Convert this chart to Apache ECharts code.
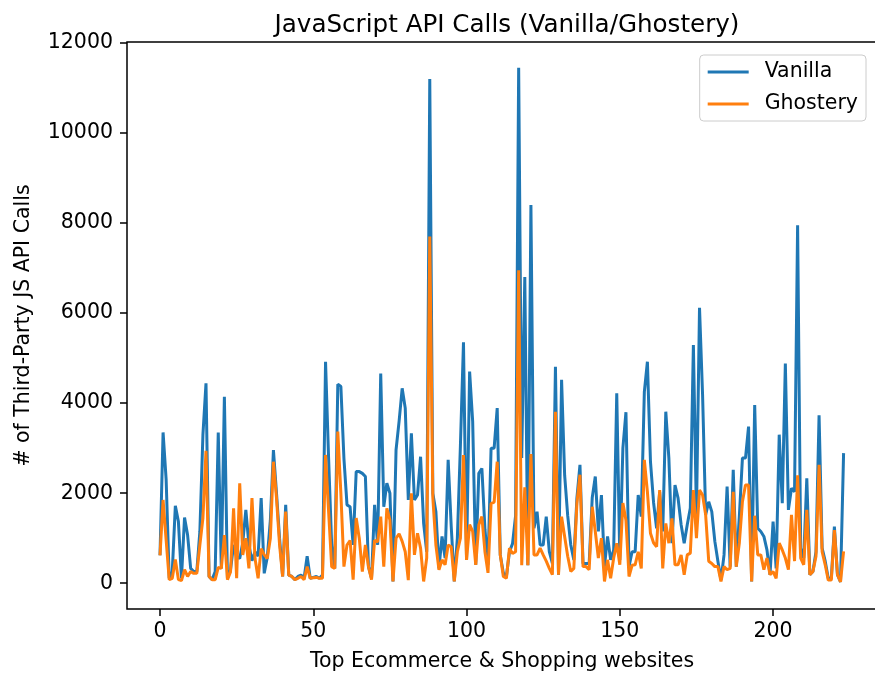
<!DOCTYPE html>
<html>
<head>
<meta charset="utf-8">
<title>JavaScript API Calls</title>
<script src="https://cdn.jsdelivr.net/npm/echarts@6/dist/echarts.min.js"></script>
<style>
    html, body { margin: 0; padding: 0; background: #fff; }
    #chart { width: 875px; height: 676px; }
</style>
</head>
<body>
<div id="chart"></div>
<script>
// values, one per website (index 0..223)
const vanilla = [
    620, 3350, 2300, 110, 260, 1720, 1370, 110, 1460, 1070, 330, 260, 260, 1150, 3300, 4440, 150, 80, 260, 3350,
    330, 4140, 110, 300, 850, 600, 550, 900, 1630, 850, 500, 700, 600, 1890, 220, 580, 1400, 2960, 2000, 1000,
    150, 1740, 180, 150, 80, 150, 180, 110, 600, 110, 130, 150, 110, 180, 4920, 2770, 850, 330, 4420, 4370,
    2770, 1740, 1700, 850, 2480, 2480, 2440, 2370, 370, 110, 1740, 850, 4660, 1700, 2220, 2000, 40, 2960, 3600, 4330,
    3890, 1850, 3330, 1850, 1960, 2810, 1330, 700, 11200, 2000, 1590, 330, 1040, 560, 2740, 1260, 40, 1000, 3060, 5350,
    520, 4700, 3590, 410, 2440, 2550, 1200, 410, 3000, 3000, 3890, 630, 230, 150, 700, 880, 1500, 11450, 2780, 6800,
    400, 8400, 1220, 1590, 850, 850, 1480, 700, 440, 4810, 190, 4520, 2400, 1500, 850, 520, 1890, 2630, 440, 440,
    440, 1900, 2370, 1150, 1960, 370, 1040, 520, 740, 4220, 520, 3000, 3800, 370, 700, 700, 1960, 1480, 4250, 4920,
    2700, 1800, 1220, 2030, 1150, 3810, 2780, 890, 2180, 1890, 1300, 890, 1300, 1670, 5290, 1520, 6120, 4180, 1520, 1810,
    1590, 930, 490, 70, 630, 2150, 370, 2520, 370, 1500, 2780, 2780, 3480, 40, 3960, 1220, 1150, 1040, 740, 190,
    1370, 330, 3300, 1780, 4880, 1630, 2110, 2030, 7950, 780, 560, 2330, 190, 260, 700, 3730, 780, 490, 110, 110,
    1260, 190, 30, 2890
];
const ghostery = [
    620, 1850, 960, 80, 110, 530, 80, 60, 300, 150, 260, 220, 220, 850, 1450, 2940, 150, 80, 80, 350,
    330, 1070, 80, 250, 1665, 110, 2220, 630, 1000, 330, 1890, 550, 110, 770, 630, 550, 1000, 2700, 1890, 850,
    150, 1590, 180, 150, 80, 110, 150, 80, 370, 110, 120, 130, 110, 110, 2850, 1590, 370, 330, 3370, 2000,
    370, 850, 950, 80, 1450, 1000, 260, 850, 370, 80, 950, 920, 1480, 370, 1665, 1400, 40, 1000, 1100, 930,
    700, 70, 2000, 630, 1110, 780, 40, 560, 7700, 1900, 850, 300, 520, 410, 850, 810, 40, 700, 1000, 2850,
    520, 1300, 1150, 410, 1300, 1480, 700, 230, 1770, 1800, 2700, 630, 150, 110, 780, 660, 700, 6950, 400, 2130,
    400, 2870, 630, 630, 780, 630, 490, 330, 190, 3810, 190, 1480, 1040, 600, 260, 330, 1780, 2410, 370, 370,
    300, 1700, 1150, 560, 1000, 40, 520, 110, 560, 890, 410, 1780, 1400, 150, 400, 410, 700, 330, 2740, 2030,
    1110, 900, 810, 2070, 330, 1330, 890, 1440, 410, 410, 630, 190, 630, 670, 2070, 1000, 2070, 1960, 1520, 490,
    440, 370, 370, 40, 370, 300, 330, 2030, 370, 900, 1810, 2180, 2180, 40, 1500, 630, 630, 300, 560, 190,
    260, 110, 890, 740, 560, 300, 1520, 490, 2400, 560, 410, 1630, 190, 260, 600, 2630, 700, 410, 70, 70,
    1180, 190, 30, 710
];
const xTicks = [0, 50, 100, 150, 200];
const yTicks = [0, 2000, 4000, 6000, 8000, 10000, 12000];

const font = 'DejaVu Sans';
const chart = echarts.init(document.getElementById('chart'));

const toPairs = function (arr) {
    return arr.map(function (v, i) { return [i, v]; });
};

const axisText = { color: '#000', fontFamily: font, fontSize: 20.5 };
const plain = function (v) { return String(v); };

const option = {
    backgroundColor: '#fff',
    animation: false,
    title: {
        text: 'JavaScript API Calls (Vanilla/Ghostery)',
        left: 502, top: 8,
        textAlign: 'center',
        textStyle: { color: '#000', fontFamily: font, fontSize: 24.6, fontWeight: 'normal' }
    },
    // right edge of the frame sits just off the canvas, as in the reference
    grid: {
        left: 127, right: -2, top: 42, bottom: 67,
        outerBoundsMode: 'none',
        show: true, borderColor: '#000', borderWidth: 1.5
    },
    legend: {
        orient: 'vertical',
        right: 9, top: 55,
        padding: [6, 8, 6, 8],
        itemWidth: 41, itemHeight: 3, itemGap: 10,
        icon: 'rect',
        borderColor: '#cccccc', borderWidth: 1, borderRadius: 4,
        backgroundColor: 'rgba(255,255,255,0.8)',
        textStyle: { color: '#000', fontFamily: font, fontSize: 20.5, lineHeight: 22, padding: [0, 0, 0, 11] },
        data: ['Vanilla', 'Ghostery']
    },
    xAxis: {
        type: 'value',
        min: -10.77, max: 233.9,
        name: 'Top Ecommerce & Shopping websites',
        nameLocation: 'middle', nameGap: 42,
        nameTextStyle: axisText,
        axisLine: { show: false, onZero: false },
        axisTick: { show: true, length: 7, lineStyle: { color: '#000', width: 1.5 }, customValues: xTicks },
        axisLabel: Object.assign({ margin: 12, customValues: xTicks, formatter: plain }, axisText),
        splitLine: { show: false }
    },
    yAxis: {
        type: 'value',
        min: -572, max: 12022,
        name: '# of Third-Party JS API Calls',
        nameLocation: 'middle', nameGap: 93,
        nameTextStyle: axisText,
        axisLine: { show: false, onZero: false },
        axisTick: { show: true, length: 7, lineStyle: { color: '#000', width: 1.5 }, customValues: yTicks },
        axisLabel: Object.assign({ margin: 14, customValues: yTicks, formatter: plain }, axisText),
        splitLine: { show: false }
    },
    series: [
        {
            name: 'Vanilla', type: 'line', symbol: 'none',
            lineStyle: { color: '#1f77b4', width: 3 }, itemStyle: { color: '#1f77b4' },
            data: toPairs(vanilla)
        },
        {
            name: 'Ghostery', type: 'line', symbol: 'none',
            lineStyle: { color: '#ff7f0e', width: 3 }, itemStyle: { color: '#ff7f0e' },
            data: toPairs(ghostery)
        }
    ]
};

chart.setOption(option);
</script>
</body>
</html>
